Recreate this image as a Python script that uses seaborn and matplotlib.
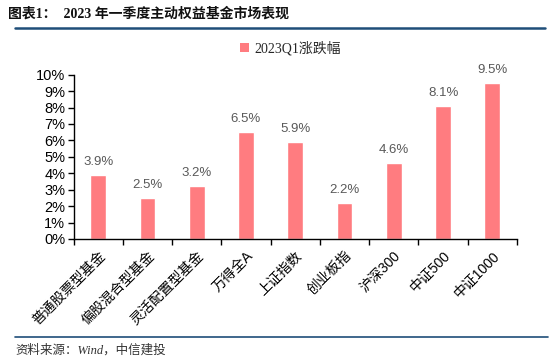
import matplotlib
matplotlib.use("Agg")
import matplotlib.pyplot as plt
import seaborn as sns
import pandas as pd
from matplotlib.lines import Line2D
from matplotlib.patches import Patch
from matplotlib.ticker import FixedLocator, PercentFormatter

categories = ["普通股票型基金", "偏股混合型基金", "灵活配置型基金", "万得全A", "上证指数",
              "创业板指", "沪深300", "中证500", "中证1000"]
values = [3.9, 2.5, 3.2, 6.5, 5.9, 2.2, 4.6, 8.1, 9.5]
series_name = "2023Q1涨跌幅"
title = "图表1：  2023 年一季度主动权益基金市场表现"
source = "资料来源：Wind，中信建投"

sns.set_theme(style="white")
plt.rcParams['font.family'] = ['Liberation Sans', 'Noto Sans CJK SC', 'DejaVu Sans']

df = pd.DataFrame({"cat": categories, "val": values})

fig = plt.figure(figsize=(5.5, 3.61), dpi=100)
ax = fig.add_axes([73.5/550, 1-239/361, (517-73.5)/550, (239-74.7)/361])

bar_color = "#FF7C80"
sns.barplot(data=df, x="cat", y="val", color=bar_color, width=0.32, ax=ax, saturation=1)
ax.set_xlim(-0.5, len(categories)-0.5)
ax.set_ylim(0, 10)
ax.yaxis.set_major_locator(FixedLocator(range(0, 11)))
ax.yaxis.set_major_formatter(PercentFormatter(decimals=0))
ax.set_xlabel("")
ax.set_ylabel("")

for c in ax.containers:
    ax.bar_label(c, labels=[f"{v:.1f}%" for v in values], padding=5, fontsize=9.5,
                 color="#595959")

for s in ["top", "right"]:
    ax.spines[s].set_visible(False)
for s in ["left", "bottom"]:
    ax.spines[s].set_color("black")
    ax.spines[s].set_linewidth(1.0)

ax.tick_params(axis="y", which="major", left=True, length=4, width=1, color="black",
               labelsize=10.5, pad=2, labelcolor="black")
ax.set_xticks(range(len(categories)))
ax.set_xticklabels(categories, rotation=45, ha="right", rotation_mode="anchor",
                   fontsize=10, color="black")
ax.tick_params(axis="x", which="major", length=0, pad=7)
ax.set_xticks([i + 0.5 for i in range(-1, len(categories))], minor=True)
ax.tick_params(axis="x", which="minor", bottom=True, length=4, width=1, color="black")

leg_handle = Patch(facecolor=bar_color, edgecolor="none")
fig.legend([leg_handle], [series_name], loc="center left",
           bbox_to_anchor=(234/550, 1-48/361), frameon=False,
           prop={'family': ['Liberation Serif', 'Noto Sans CJK SC'], 'size': 10},
           handlelength=0.7, handleheight=0.7, handletextpad=0.4, borderaxespad=0)

fig.text(8/550, 1-14/361, title, fontsize=10, fontweight="bold", va="center", ha="left",
         color="#111111", family=['Liberation Serif', 'Noto Sans CJK SC'])
fig.add_artist(Line2D([15/550, 545/550], [1-28/361, 1-28/361], color="#1F4E79",
                      linewidth=1.8, transform=fig.transFigure))
fig.add_artist(Line2D([15/550, 548/550], [1-337/361, 1-337/361], color="#1F4E79",
                      linewidth=1.2, transform=fig.transFigure))
fig.text(15/550, 1-350/361, source, fontsize=9, style="italic", va="center", ha="left",
         color="#333333", family=['Liberation Serif', 'Noto Sans CJK SC'])

fig.savefig("out.png", dpi=100)
